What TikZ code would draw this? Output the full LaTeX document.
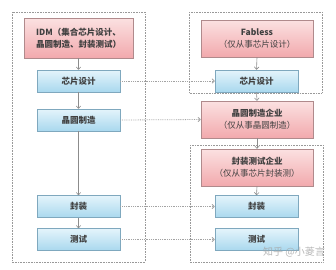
\documentclass[tikz,border=0pt]{standalone}
\usepackage{fontspec}
\newfontfamily\cjk{Noto Sans CJK SC}
\usetikzlibrary{arrows.meta}
\definecolor{pinktop}{HTML}{FBE1E1}
\definecolor{pinkbot}{HTML}{F2A9AD}
\definecolor{pinkline}{HTML}{B08A8C}
\definecolor{bluetop}{HTML}{E4F4FB}
\definecolor{bluebot}{HTML}{A9D8EE}
\definecolor{blueline}{HTML}{7FA8BE}
\definecolor{arrowgray}{HTML}{8C8C8C}
\tikzset{
  pinkbox/.style={draw=pinkline, line width=0.6pt, top color=pinktop, bottom color=pinkbot,
    minimum width=112pt, minimum height=37pt, align=center, inner sep=1pt,
    font=\cjk\fontsize{8.5}{12}\selectfont, text=black!75},
  bluebox/.style={draw=blueline, line width=0.6pt, top color=bluetop, bottom color=bluebot,
    minimum width=83pt, minimum height=22pt, align=center, inner sep=1pt,
    font=\cjk\bfseries\fontsize{8.5}{10}\selectfont, text=black!75},
  group/.style={draw=black!40, densely dotted, line width=0.6pt},
  flow/.style={draw=arrowgray, line width=0.6pt, -{To[length=3pt,width=5pt]}},
  link/.style={draw=arrowgray!80, densely dotted, line width=0.8pt, -{To[length=3pt,width=5pt]}},
}
\begin{document}
\begin{tikzpicture}[x=1pt,y=-1pt]
\useasboundingbox[fill=white] (0,0) rectangle (336,269);
% group frames
\draw[group] (12,12) rectangle (145,262);
\draw[group] (189,12) rectangle (322,93);
\draw[group] (190,145) rectangle (323,262);
% left column
\node[pinkbox, minimum width=109pt, minimum height=40pt] (idm) at (78.5,38) {\textbf{IDM（集合芯片设计、}\\\textbf{晶圆制造、封装测试）}};
\node[bluebox] (ld) at (78.5,81) {芯片设计};
\node[bluebox] (lw) at (78.5,120) {晶圆制造};
\node[bluebox] (lp) at (78.5,206.5) {封装};
\node[bluebox] (lt) at (78.5,239.5) {测试};
% right column
\node[pinkbox] (fab) at (257,38.5) {\textbf{Fabless}\\（仅从事芯片设计）};
\node[bluebox] (rd) at (256.5,81) {芯片设计};
\node[pinkbox] (wf) at (257,119.5) {\textbf{晶圆制造企业}\\（仅从事晶圆制造）};
\node[pinkbox] (pt) at (257,167.5) {\textbf{封装测试企业}\\（仅从事芯片封装测）};
\node[bluebox] (rp) at (256.5,206.5) {封装};
\node[bluebox] (rt) at (256.5,239.5) {测试};
% vertical flows
\draw[flow] (idm.south) -- (ld.north);
\draw[flow] (ld.south) -- (lw.north);
\draw[flow] (lw.south) -- (lp.north);
\draw[flow] (lp.south) -- (lt.north);
\draw[flow] (fab.south) -- (rd.north);
\draw[flow] (rd.south) -- (wf.north);
\draw[flow] (wf.south) -- (pt.north);
\draw[flow] (pt.south) -- (rp.north);
% horizontal links
\draw[link] (ld.east) -- (rd.west);
\draw[link] (lw.east) -- (wf.west);
\draw[link] (lp.east) -- (rp.west);
\draw[link] (lt.east) -- (rt.west);
% watermark
\node[font=\cjk\fontsize{10}{11}\selectfont, text=black!35, opacity=0.8, inner sep=0pt] (wm) at (294,252) {知乎 @小菱言};
\end{tikzpicture}
\end{document}
